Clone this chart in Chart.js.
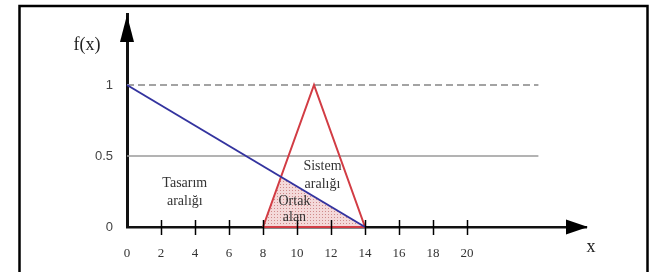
<!DOCTYPE html>
<html>
<head>
<meta charset="utf-8">
<script src="https://cdn.jsdelivr.net/npm/chart.js@4.4.0/dist/chart.umd.min.js"></script>
<style>
  body { margin: 0; background: #fff; }
</style>
</head>
<body>
<canvas id="fuzzyChart" width="666" height="272"></canvas>
<script>
// DATA
const xTicks = [0, 2, 4, 6, 8, 10, 12, 14, 16, 18, 20];
const yTicks = [0, 0.5, 1];
const designX = [0, 14];          // Tasarım aralığı (blue)
const designY = [1, 0];
const systemX = [8, 11, 14, 8];   // Sistem aralığı (red triangle)
const systemY = [0, 1, 0, 0];
const refLevels = [1, 0.5];
const refEndX = 24.2;

const toPts = (xs, ys) => xs.map((x, i) => ({ x: x, y: ys[i] }));

// common area = where blue line crosses red rising edge
function crossing() {
  const b = (designY[1] - designY[0]) / (designX[1] - designX[0]);
  const r = (systemY[1] - systemY[0]) / (systemX[1] - systemX[0]);
  const x = (designY[0] - b * designX[0] - systemY[0] + r * systemX[0]) / (r - b);
  return { x: x, y: designY[0] + b * (x - designX[0]) };
}
const commonPts = [{ x: systemX[0], y: 0 }, crossing(), { x: systemX[2], y: 0 }];

// dotted pink fill
const pc = document.createElement('canvas');
pc.width = 3; pc.height = 3;
const pctx = pc.getContext('2d');
pctx.fillStyle = '#f4d9d9';
pctx.fillRect(0, 0, 3, 3);
pctx.fillStyle = '#cf8a8a';
pctx.fillRect(1, 1, 1, 1);
const ctx = document.getElementById('fuzzyChart').getContext('2d');
const pattern = ctx.createPattern(pc, 'repeat');

const notes = [
  { lines: ['Tasarım', 'aralığı'], x: 3.4, y: [0.305, 0.178] },
  { lines: ['Sistem', 'aralığı'], x: 11.5, y: [0.43, 0.303] },
  { lines: ['Ortak', 'alan'], x: 9.85, y: [0.183, 0.065] }
];

const noPad = s => { s.paddingTop = 0; s.paddingBottom = 0; s.paddingLeft = 0; s.paddingRight = 0; };

const decor = {
  id: 'decor',
  beforeDraw(chart) {
    const c = chart.ctx;
    c.save();
    c.strokeStyle = '#000';
    c.lineWidth = 2.5;
    c.strokeRect(19.5, 6, 628, 320);
    c.restore();
  },
  afterDraw(chart) {
    const c = chart.ctx, a = chart.chartArea;
    const xs = chart.scales.x, ys = chart.scales.y;
    const y0 = ys.getPixelForValue(0), x0 = xs.getPixelForValue(0);
    c.save();
    c.fillStyle = '#000';
    c.strokeStyle = '#000';
    // y arrow
    c.beginPath();
    c.moveTo(x0, a.top + 1);
    c.lineTo(x0 - 7, a.top + 28);
    c.lineTo(x0 + 7, a.top + 28);
    c.closePath();
    c.fill();
    // x arrow
    c.beginPath();
    c.moveTo(a.right + 2, y0);
    c.lineTo(a.right - 20, y0 - 7.5);
    c.lineTo(a.right - 20, y0 + 7.5);
    c.closePath();
    c.fill();
    // tick marks crossing the axis
    c.lineWidth = 1.5;
    xTicks.slice(1).forEach(v => {
      const px = Math.round(xs.getPixelForValue(v)) + 0.5;
      c.beginPath();
      c.moveTo(px, y0 - 7);
      c.lineTo(px, y0 + 8);
      c.stroke();
    });
    // axis names
    c.fillStyle = '#222';
    c.font = '18px "Liberation Serif"';
    c.textAlign = 'center';
    c.textBaseline = 'middle';
    c.fillText('f(x)', 87, 45);
    c.fillText('x', 591, 247);
    // region labels
    c.fillStyle = '#333';
    c.font = '14px "Liberation Serif"';
    notes.forEach(n => {
      n.lines.forEach((t, i) => {
        c.fillText(t, xs.getPixelForValue(n.x), ys.getPixelForValue(n.y[i]));
      });
    });
    c.restore();
  }
};

new Chart(ctx, {
  type: 'scatter',
  data: {
    datasets: [
      {
        data: toPts(designX, designY),
        showLine: true, borderColor: '#33339f', borderWidth: 2,
        pointRadius: 0, clip: false
      },
      {
        data: toPts(systemX, systemY),
        showLine: true, borderColor: '#d23c44', borderWidth: 2,
        pointRadius: 0, clip: false
      },
      {
        data: [{ x: 0, y: refLevels[0] }, { x: refEndX, y: refLevels[0] }],
        showLine: true, borderColor: '#a3a3a3', borderWidth: 2, borderDash: [7, 4],
        pointRadius: 0, clip: false
      },
      {
        data: [{ x: 0, y: refLevels[1] }, { x: refEndX, y: refLevels[1] }],
        showLine: true, borderColor: '#9a9a9a', borderWidth: 1.5,
        pointRadius: 0, clip: false
      },
      {
        data: commonPts,
        showLine: true, borderWidth: 0, borderColor: 'rgba(0,0,0,0)',
        backgroundColor: pattern, fill: 'origin',
        pointRadius: 0, clip: false
      }
    ]
  },
  options: {
    responsive: false,
    animation: false,
    layout: { padding: { left: 0, top: 14, right: 80, bottom: 0 } },
    plugins: { legend: { display: false }, tooltip: { enabled: false }, filler: { propagate: false } },
    scales: {
      x: {
        type: 'linear', min: 0, max: 27,
        grid: { display: false, drawTicks: false },
        border: { display: true, color: '#111', width: 2.5 },
        afterBuildTicks: s => { s.ticks = xTicks.map(v => ({ value: v })); },
        afterFit: s => { s.height = 45; noPad(s); },
        ticks: { padding: 19, color: '#333', font: { size: 13, family: 'Liberation Serif' },
                 callback: v => String(v) }
      },
      y: {
        type: 'linear', min: 0, max: 1.5,
        grid: { display: false, drawTicks: false },
        border: { display: true, color: '#111', width: 3 },
        afterBuildTicks: s => { s.ticks = yTicks.map(v => ({ value: v })); },
        afterFit: s => { s.width = 127; noPad(s); },
        ticks: { padding: 14, color: '#444', font: { size: 13, family: 'Liberation Sans' },
                 callback: v => String(v) }
      }
    }
  },
  plugins: [decor]
});
</script>
</body>
</html>
